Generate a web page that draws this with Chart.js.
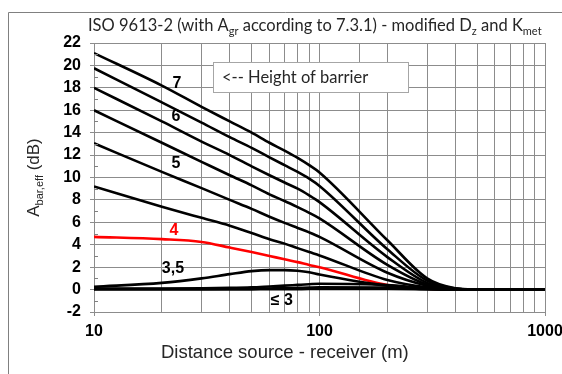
<!DOCTYPE html>
<html><head><meta charset="utf-8">
<script src="https://cdn.jsdelivr.net/npm/chart.js@4.4.1/dist/chart.umd.min.js"></script>
<style>html,body{margin:0;padding:0;background:#fff}#wrap{width:562px;height:374px;position:relative}</style>
</head><body><div id="wrap"><canvas id="c" width="562" height="374"></canvas></div>
<script>
// ---- data ----
const distances = [10,20,30,40,50,60,70,80,90,100,200,300,400,500,600,700,800,900,1000];
const h7  = [21.1,18.2,16.3,15.0,14.0,13.1,12.4,11.75,11.1,10.45,4.4,1.0,0.12,0.01,0,0,0,0,0];
const h65 = [19.75,16.7,14.9,13.6,12.65,11.8,11.1,10.5,9.9,9.25,3.6,0.8,0.1,0.01,0,0,0,0,0];
const h6  = [18.0,15.0,13.2,12.0,11.0,10.2,9.55,9.0,8.4,7.8,2.9,0.6,0.08,0.01,0,0,0,0,0];
const h55 = [16.0,13.1,11.4,10.2,9.3,8.5,7.9,7.35,6.85,6.35,2.2,0.45,0.06,0,0,0,0,0,0];
const h5  = [13.05,10.5,9.05,8.0,7.2,6.5,5.95,5.5,5.1,4.7,1.5,0.35,0.04,0,0,0,0,0,0];
const h45 = [9.2,7.4,6.4,5.7,5.05,4.5,4.1,3.7,3.35,3.05,0.85,0.2,0.03,0,0,0,0,0,0];
const h4  = [4.7,4.5,4.25,3.75,3.35,3.0,2.7,2.45,2.2,2.0,0.4,0.08,0.01,0,0,0,0,0,0];
const h35 = [0.25,0.6,1.0,1.38,1.65,1.74,1.74,1.68,1.55,1.35,0.35,0.08,0.01,0,0,0,0,0,0];
const h3  = [0.1,0.1,0.12,0.15,0.2,0.28,0.35,0.42,0.48,0.52,0.4,0.1,0.01,0,0,0,0,0,0];
const h25 = [0.05,0.05,0.06,0.07,0.08,0.1,0.12,0.15,0.18,0.2,0.18,0.05,0,0,0,0,0,0,0];
const h2  = [0.02,0.02,0.02,0.02,0.02,0.03,0.03,0.04,0.05,0.05,0.05,0.02,0,0,0,0,0,0,0];
const xTickLabels = [10,100,1000];
const yTicks = [-2,0,2,4,6,8,10,12,14,16,18,20,22];
const curveLabels = ['7','6','5','4','3,5','\u2264 3'];
const curveLabelX = [23.3,23.1,23.1,22.6,22.4,68];
const curveLabelY = [18.4,15.4,11.2,5.3,1.83,-0.94];
const curveLabelColor = ['#000','#000','#000','#ff0000','#000','#000'];

const black = [h7,h65,h6,h55,h5,h45,h35,h3,h25,h2];
const toXY = arr => distances.map((d,i)=>({x:d,y:arr[i]}));
const datasets = black.map(a=>({data:toXY(a),borderColor:'#000',borderWidth:2.6}));
datasets.push({data:toXY(h4),borderColor:'#ff0000',borderWidth:2.6});
datasets.forEach(d=>{d.pointRadius=0;d.cubicInterpolationMode='monotone';d.fill=false;});

const SANS = '"Liberation Sans", Arial, sans-serif';
const TFONT = 'Lato, "Open Sans", sans-serif';

function richWidth(ctx, segs, size, fam){
  let w=0;
  segs.forEach(s=>{ctx.font=(s[1]?Math.round(size*0.65):size)+'px '+fam; w+=ctx.measureText(s[0]).width;});
  return w;
}
function drawRich(ctx, segs, x, y, size, fam, color){
  ctx.fillStyle=color; ctx.textBaseline='alphabetic'; ctx.textAlign='left';
  let cx=x;
  segs.forEach(s=>{
    const sub=s[1];
    ctx.font=(sub?Math.round(size*0.65):size)+'px '+fam;
    ctx.fillText(s[0],cx,y+(sub?size*0.22:0));
    cx+=ctx.measureText(s[0]).width;
  });
}

const deco = {
  id:'deco',
  beforeDraw(chart){
    const ctx=chart.ctx;
    ctx.save();
    ctx.fillStyle='#fff'; ctx.fillRect(0,0,chart.width,chart.height);
    ctx.strokeStyle='#808080'; ctx.lineWidth=1;
    ctx.beginPath(); ctx.moveTo(8.5,374); ctx.lineTo(8.5,12.5); ctx.lineTo(562,12.5); ctx.stroke();
    ctx.restore();
  },
  afterDraw(chart){
    const ctx=chart.ctx, ca=chart.chartArea, ys=chart.scales.y, xs=chart.scales.x;
    ctx.save();
    // minor y ticks inside
    ctx.strokeStyle='#808080'; ctx.lineWidth=1;
    for(let v=ys.min+1; v<ys.max; v+=2){
      const py=Math.round(ys.getPixelForValue(v))+0.5;
      ctx.beginPath(); ctx.moveTo(ca.left,py); ctx.lineTo(ca.left+4,py); ctx.stroke();
    }
    // title
    const tsegs=[['ISO 9613-2 (with A',0],['gr',1],[' according to 7.3.1) - modified D',0],['z',1],[' and K',0],['met',1]];
    drawRich(ctx,tsegs,88,31,16.5,TFONT,'#262626');
    // y title
    const ysegs=[['A',0],['bar,eff',1],[' (dB)',0]];
    ctx.save();
    ctx.translate(39,(ca.top+ca.bottom)/2); ctx.rotate(-Math.PI/2);
    const yw=richWidth(ctx,ysegs,17,SANS);
    drawRich(ctx,ysegs,-yw/2,0,17,SANS,'#262626');
    ctx.restore();
    // x title
    ctx.font='18.5px '+SANS; ctx.fillStyle='#262626'; ctx.textAlign='left'; ctx.textBaseline='alphabetic';
    ctx.fillText('Distance source - receiver (m)',161,358);
    // text box
    ctx.fillStyle='#fff'; ctx.fillRect(213,62,195,30);
    ctx.strokeStyle='#a6a6a6'; ctx.strokeRect(213.5,62.5,195,30);
    ctx.font='16.5px '+TFONT; ctx.fillStyle='#262626'; ctx.textAlign='left'; ctx.textBaseline='middle';
    ctx.fillText('<-- Height of barrier',222,78);
    // curve labels
    ctx.textAlign='center'; ctx.textBaseline='middle';
    curveLabels.forEach((t,i)=>{
      ctx.font='bold 16px '+SANS; ctx.fillStyle=curveLabelColor[i];
      ctx.fillText(t,xs.getPixelForValue(curveLabelX[i]),ys.getPixelForValue(curveLabelY[i]));
    });
    ctx.restore();
  }
};

new Chart(document.getElementById('c'),{
  type:'line',
  data:{datasets},
  options:{
    responsive:false, animation:false, devicePixelRatio:1,
    layout:{padding:{top:43,right:17,left:0,bottom:0}},
    plugins:{legend:{display:false},tooltip:{enabled:false}},
    scales:{
      x:{type:'logarithmic',min:10,max:1000,
        afterFit(s){s.height=62;s.paddingLeft=0;s.paddingRight=0;},
        grid:{color:'#8c8c8c',lineWidth:1,tickLength:4,
          tickColor:c=>xTickLabels.includes(c.tick&&c.tick.value)?'#8c8c8c':'rgba(0,0,0,0)'},
        border:{color:'#8c8c8c'},
        ticks:{autoSkip:false,maxRotation:0,padding:6,color:'#000',font:{family:SANS,size:16,weight:'bold'},
          callback:(v)=>xTickLabels.includes(v)?String(v):''}
      },
      y:{min:-2,max:22,
        afterFit(s){s.width=94;s.paddingTop=0;s.paddingBottom=0;},
        afterBuildTicks(s){s.ticks=yTicks.map(v=>({value:v}));},
        grid:{color:'#8c8c8c',lineWidth:1,tickLength:4,tickColor:'#8c8c8c'},
        border:{color:'#8c8c8c'},
        ticks:{padding:9,color:'#000',font:{family:SANS,size:16,weight:'bold'}}
      }
    }
  },
  plugins:[deco]
});
</script></body></html>
